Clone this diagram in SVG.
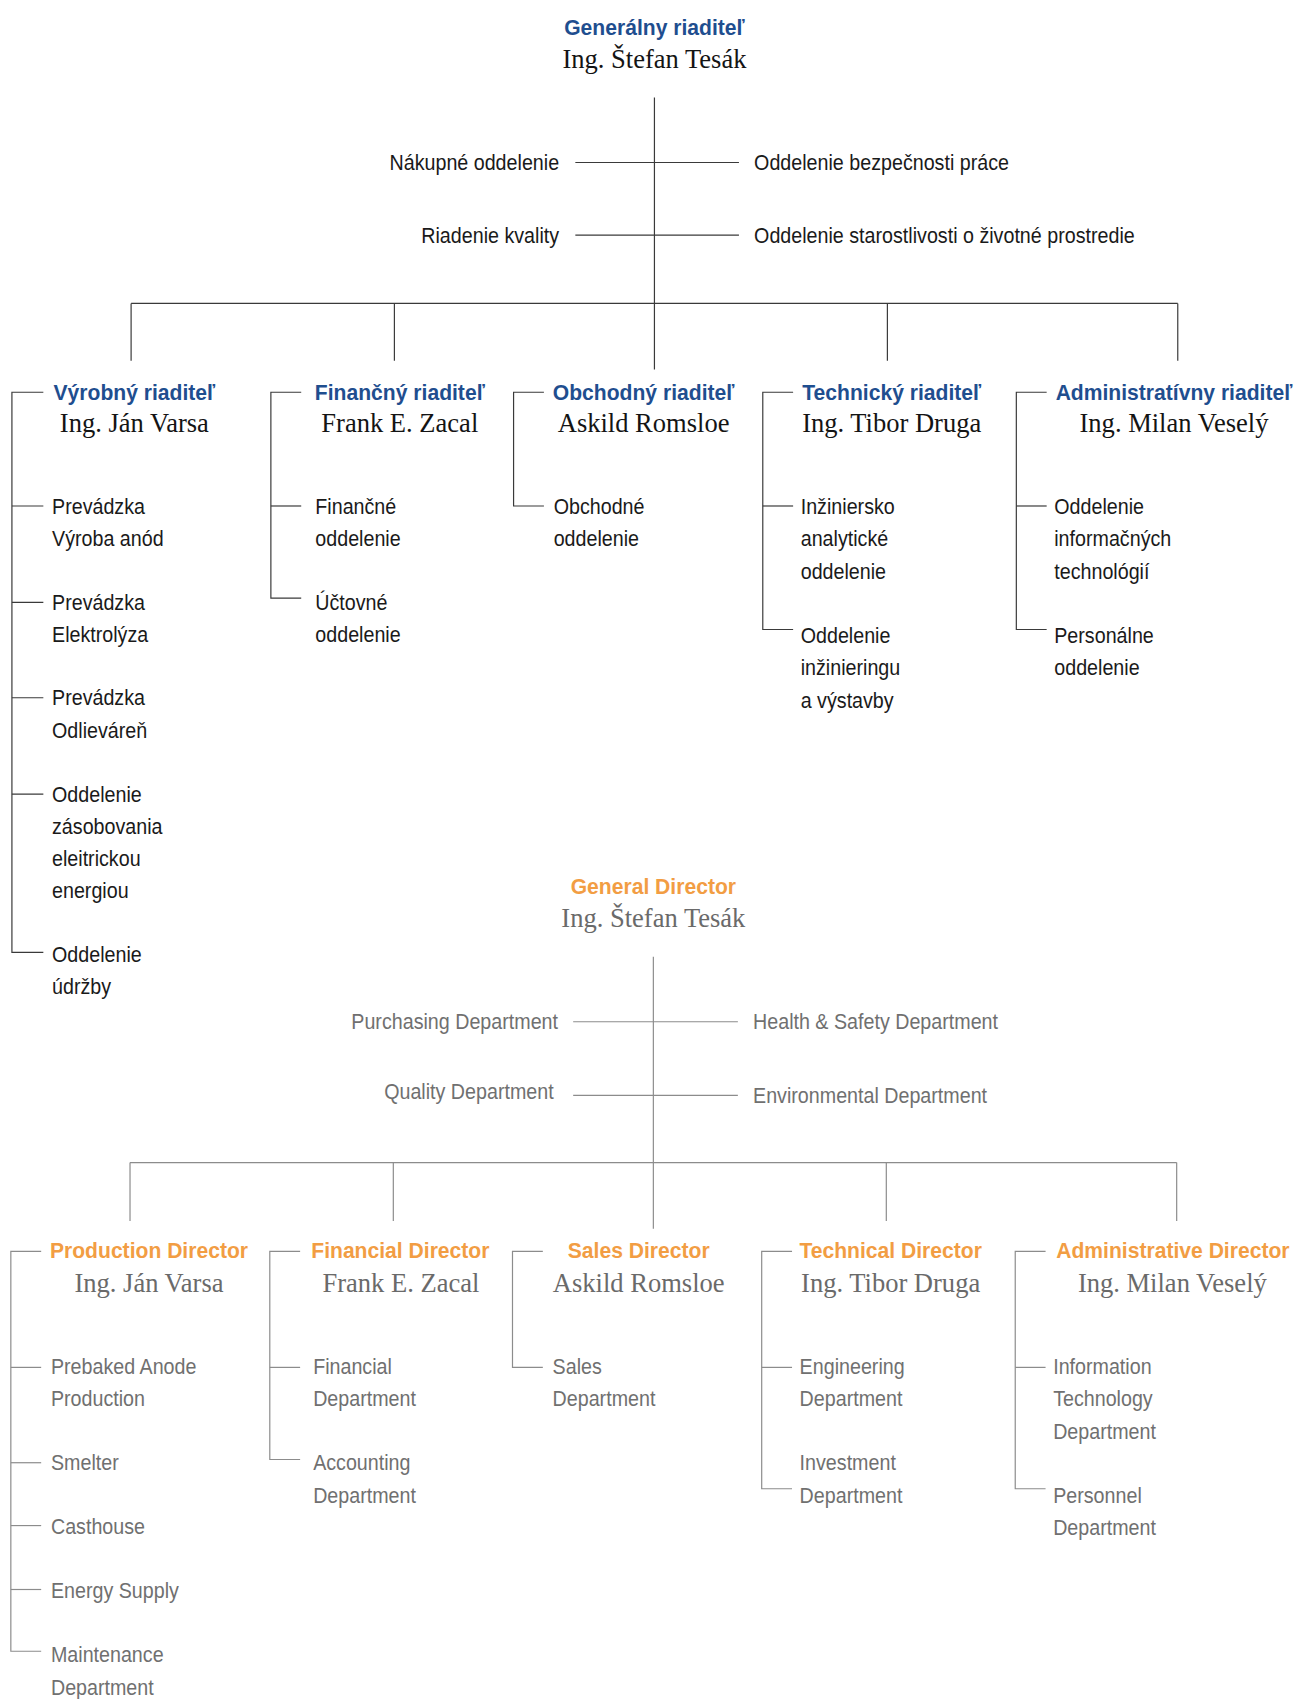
<svg xmlns="http://www.w3.org/2000/svg" width="1298" height="1699" viewBox="0 0 1298 1699">
<style>
.t{font-family:"Liberation Sans",Arial,sans-serif;font-weight:bold;font-size:20.5px;text-anchor:middle}
.n{font-family:"Liberation Serif","Times New Roman",serif;font-size:24.5px;text-anchor:middle}
.i{font-family:"Liberation Sans",Arial,sans-serif;font-size:21px}
.r{text-anchor:end}
.sk .t{fill:#1f4e8f}
.en .t{fill:#f29d43}
.sk .n{fill:#141414}
.en .n{fill:#6a6a6a}
.sk .i{fill:#1a1a1a}
.en .i{fill:#707070}
.sk line,.sk polyline{stroke:#3a3a3a;stroke-width:1.1;fill:none}
.en line,.en polyline{stroke:#8c8c8c;stroke-width:1.1;fill:none}
</style>
<rect width="1298" height="1699" fill="#ffffff"/>
<g transform="scale(1.0835)">
<!-- ================= SLOVAK ================= -->
<g class="sk">
<g id="sk-connectors">
<line x1="604" y1="90" x2="604" y2="341"/>
<line x1="531" y1="150" x2="682" y2="150"/>
<line x1="531" y1="217" x2="682" y2="217"/>
<line x1="121" y1="280" x2="1087" y2="280"/>
<line x1="121" y1="280" x2="121" y2="333"/>
<line x1="364" y1="280" x2="364" y2="333"/>
<line x1="819" y1="280" x2="819" y2="333"/>
<line x1="1087" y1="280" x2="1087" y2="333"/>
<polyline points="40,362 11,362 11,879 40,879"/>
<line x1="11" y1="467" x2="40" y2="467"/>
<line x1="11" y1="556" x2="40" y2="556"/>
<line x1="11" y1="644" x2="40" y2="644"/>
<line x1="11" y1="733" x2="40" y2="733"/>
<polyline points="278,362 250,362 250,552 278,552"/>
<line x1="250" y1="467" x2="278" y2="467"/>
<polyline points="502,362 474,362 474,467 502,467"/>
<polyline points="732,362 704,362 704,581 732,581"/>
<line x1="704" y1="467" x2="732" y2="467"/>
<polyline points="966,362 938,362 938,581 966,581"/>
<line x1="938" y1="467" x2="966" y2="467"/>
</g>
<g id="sk-gd">
<text class="t" transform="translate(604,32) scale(0.95,1)">Generálny riaditeľ</text>
<text class="n" x="604" y="63">Ing. Štefan Tesák</text>
</g>
<g id="sk-nakup"><text class="i r" transform="translate(516,157) scale(0.865,1)">Nákupné oddelenie</text></g>
<g id="sk-kvalita"><text class="i r" transform="translate(516,224) scale(0.865,1)">Riadenie kvality</text></g>
<g id="sk-bozp"><text class="i" transform="translate(696,157) scale(0.865,1)">Oddelenie bezpečnosti práce</text></g>
<g id="sk-zp"><text class="i" transform="translate(696,224) scale(0.865,1)">Oddelenie starostlivosti o životné prostredie</text></g>

<g id="sk-vyrobny">
<text class="t" transform="translate(124,369) scale(0.95,1)">Výrobný riaditeľ</text>
<text class="n" x="124" y="399">Ing. Ján Varsa</text>
</g>
<g id="sk-v1"><text class="i" transform="translate(48,474) scale(0.865,1)"><tspan x="0">Prevádzka</tspan><tspan x="0" dy="30">Výroba anód</tspan></text></g>
<g id="sk-v2"><text class="i" transform="translate(48,563) scale(0.865,1)"><tspan x="0">Prevádzka</tspan><tspan x="0" dy="30">Elektrolýza</tspan></text></g>
<g id="sk-v3"><text class="i" transform="translate(48,651) scale(0.865,1)"><tspan x="0">Prevádzka</tspan><tspan x="0" dy="30">Odlieváreň</tspan></text></g>
<g id="sk-v4"><text class="i" transform="translate(48,740) scale(0.865,1)"><tspan x="0">Oddelenie</tspan><tspan x="0" dy="29.7">zásobovania</tspan><tspan x="0" dy="29.7">eleitrickou</tspan><tspan x="0" dy="29.7">energiou</tspan></text></g>
<g id="sk-v5"><text class="i" transform="translate(48,888) scale(0.865,1)"><tspan x="0">Oddelenie</tspan><tspan x="0" dy="29.7">údržby</tspan></text></g>

<g id="sk-financny">
<text class="t" transform="translate(369,369) scale(0.95,1)">Finančný riaditeľ</text>
<text class="n" x="369" y="399">Frank E. Zacal</text>
</g>
<g id="sk-f1"><text class="i" transform="translate(291,474) scale(0.865,1)"><tspan x="0">Finančné</tspan><tspan x="0" dy="30">oddelenie</tspan></text></g>
<g id="sk-f2"><text class="i" transform="translate(291,563) scale(0.865,1)"><tspan x="0">Účtovné</tspan><tspan x="0" dy="30">oddelenie</tspan></text></g>

<g id="sk-obchodny">
<text class="t" transform="translate(594,369) scale(0.95,1)">Obchodný riaditeľ</text>
<text class="n" x="594" y="399">Askild Romsloe</text>
</g>
<g id="sk-o1"><text class="i" transform="translate(511,474) scale(0.865,1)"><tspan x="0">Obchodné</tspan><tspan x="0" dy="30">oddelenie</tspan></text></g>

<g id="sk-technicky">
<text class="t" transform="translate(823,369) scale(0.95,1)">Technický riaditeľ</text>
<text class="n" x="823" y="399">Ing. Tibor Druga</text>
</g>
<g id="sk-t1"><text class="i" transform="translate(739,474) scale(0.865,1)"><tspan x="0">Inžiniersko</tspan><tspan x="0" dy="30">analytické</tspan><tspan x="0" dy="30">oddelenie</tspan></text></g>
<g id="sk-t2"><text class="i" transform="translate(739,593) scale(0.865,1)"><tspan x="0">Oddelenie</tspan><tspan x="0" dy="30">inžinieringu</tspan><tspan x="0" dy="30">a výstavby</tspan></text></g>

<g id="sk-admin">
<text class="t" transform="translate(1083.5,369) scale(0.95,1)">Administratívny riaditeľ</text>
<text class="n" x="1083.5" y="399">Ing. Milan Veselý</text>
</g>
<g id="sk-a1"><text class="i" transform="translate(973,474) scale(0.865,1)"><tspan x="0">Oddelenie</tspan><tspan x="0" dy="30">informačných</tspan><tspan x="0" dy="30">technológií</tspan></text></g>
<g id="sk-a2"><text class="i" transform="translate(973,593) scale(0.865,1)"><tspan x="0">Personálne</tspan><tspan x="0" dy="30">oddelenie</tspan></text></g>
</g>

<!-- ================= ENGLISH ================= -->
<g class="en">
<g id="en-connectors">
<line x1="603" y1="883" x2="603" y2="1134"/>
<line x1="529" y1="943" x2="681" y2="943"/>
<line x1="529" y1="1011" x2="681" y2="1011"/>
<line x1="120" y1="1073" x2="1086" y2="1073"/>
<line x1="120" y1="1073" x2="120" y2="1127"/>
<line x1="363" y1="1073" x2="363" y2="1127"/>
<line x1="818" y1="1073" x2="818" y2="1127"/>
<line x1="1086" y1="1073" x2="1086" y2="1127"/>
<polyline points="38,1155 10,1155 10,1524 38,1524"/>
<line x1="10" y1="1262" x2="38" y2="1262"/>
<line x1="10" y1="1350" x2="38" y2="1350"/>
<line x1="10" y1="1408" x2="38" y2="1408"/>
<line x1="10" y1="1467" x2="38" y2="1467"/>
<polyline points="277,1155 249,1155 249,1347 277,1347"/>
<line x1="249" y1="1262" x2="277" y2="1262"/>
<polyline points="501,1155 473,1155 473,1262 501,1262"/>
<polyline points="731,1155 703,1155 703,1374 731,1374"/>
<line x1="703" y1="1262" x2="731" y2="1262"/>
<polyline points="965,1155 937,1155 937,1374 965,1374"/>
<line x1="937" y1="1262" x2="965" y2="1262"/>
</g>
<g id="en-gd">
<text class="t" transform="translate(603,825) scale(0.95,1)">General Director</text>
<text class="n" x="603" y="856">Ing. Štefan Tesák</text>
</g>
<g id="en-purch"><text class="i r" transform="translate(515,950) scale(0.865,1)">Purchasing Department</text></g>
<g id="en-quality"><text class="i r" transform="translate(511,1014) scale(0.865,1)">Quality Department</text></g>
<g id="en-hs"><text class="i" transform="translate(695,950) scale(0.865,1)">Health &amp; Safety Department</text></g>
<g id="en-env"><text class="i" transform="translate(695,1018) scale(0.865,1)">Environmental Department</text></g>

<g id="en-production">
<text class="t" transform="translate(137.5,1161) scale(0.95,1)">Production Director</text>
<text class="n" x="137.5" y="1192">Ing. Ján Varsa</text>
</g>
<g id="en-p1"><text class="i" transform="translate(47,1268) scale(0.865,1)"><tspan x="0">Prebaked Anode</tspan><tspan x="0" dy="30">Production</tspan></text></g>
<g id="en-p2"><text class="i" transform="translate(47,1357) scale(0.865,1)">Smelter</text></g>
<g id="en-p3"><text class="i" transform="translate(47,1416) scale(0.865,1)">Casthouse</text></g>
<g id="en-p4"><text class="i" transform="translate(47,1475) scale(0.865,1)">Energy Supply</text></g>
<g id="en-p5"><text class="i" transform="translate(47,1534) scale(0.865,1)"><tspan x="0">Maintenance</tspan><tspan x="0" dy="30">Department</tspan></text></g>

<g id="en-financial">
<text class="t" transform="translate(369.5,1161) scale(0.95,1)">Financial Director</text>
<text class="n" x="370" y="1192">Frank E. Zacal</text>
</g>
<g id="en-f1"><text class="i" transform="translate(289,1268) scale(0.865,1)"><tspan x="0">Financial</tspan><tspan x="0" dy="30">Department</tspan></text></g>
<g id="en-f2"><text class="i" transform="translate(289,1357) scale(0.865,1)"><tspan x="0">Accounting</tspan><tspan x="0" dy="30">Department</tspan></text></g>

<g id="en-sales">
<text class="t" transform="translate(589.5,1161) scale(0.95,1)">Sales Director</text>
<text class="n" x="589.5" y="1192">Askild Romsloe</text>
</g>
<g id="en-s1"><text class="i" transform="translate(510,1268) scale(0.865,1)"><tspan x="0">Sales</tspan><tspan x="0" dy="30">Department</tspan></text></g>

<g id="en-technical">
<text class="t" transform="translate(822,1161) scale(0.95,1)">Technical Director</text>
<text class="n" x="822" y="1192">Ing. Tibor Druga</text>
</g>
<g id="en-t1"><text class="i" transform="translate(738,1268) scale(0.865,1)"><tspan x="0">Engineering</tspan><tspan x="0" dy="30">Department</tspan></text></g>
<g id="en-t2"><text class="i" transform="translate(738,1357) scale(0.865,1)"><tspan x="0">Investment</tspan><tspan x="0" dy="30">Department</tspan></text></g>

<g id="en-admin">
<text class="t" transform="translate(1082.5,1161) scale(0.95,1)">Administrative Director</text>
<text class="n" x="1082" y="1192">Ing. Milan Veselý</text>
</g>
<g id="en-a1"><text class="i" transform="translate(972,1268) scale(0.865,1)"><tspan x="0">Information</tspan><tspan x="0" dy="30">Technology</tspan><tspan x="0" dy="30">Department</tspan></text></g>
<g id="en-a2"><text class="i" transform="translate(972,1387) scale(0.865,1)"><tspan x="0">Personnel</tspan><tspan x="0" dy="30">Department</tspan></text></g>
</g>
</g>
</svg>
